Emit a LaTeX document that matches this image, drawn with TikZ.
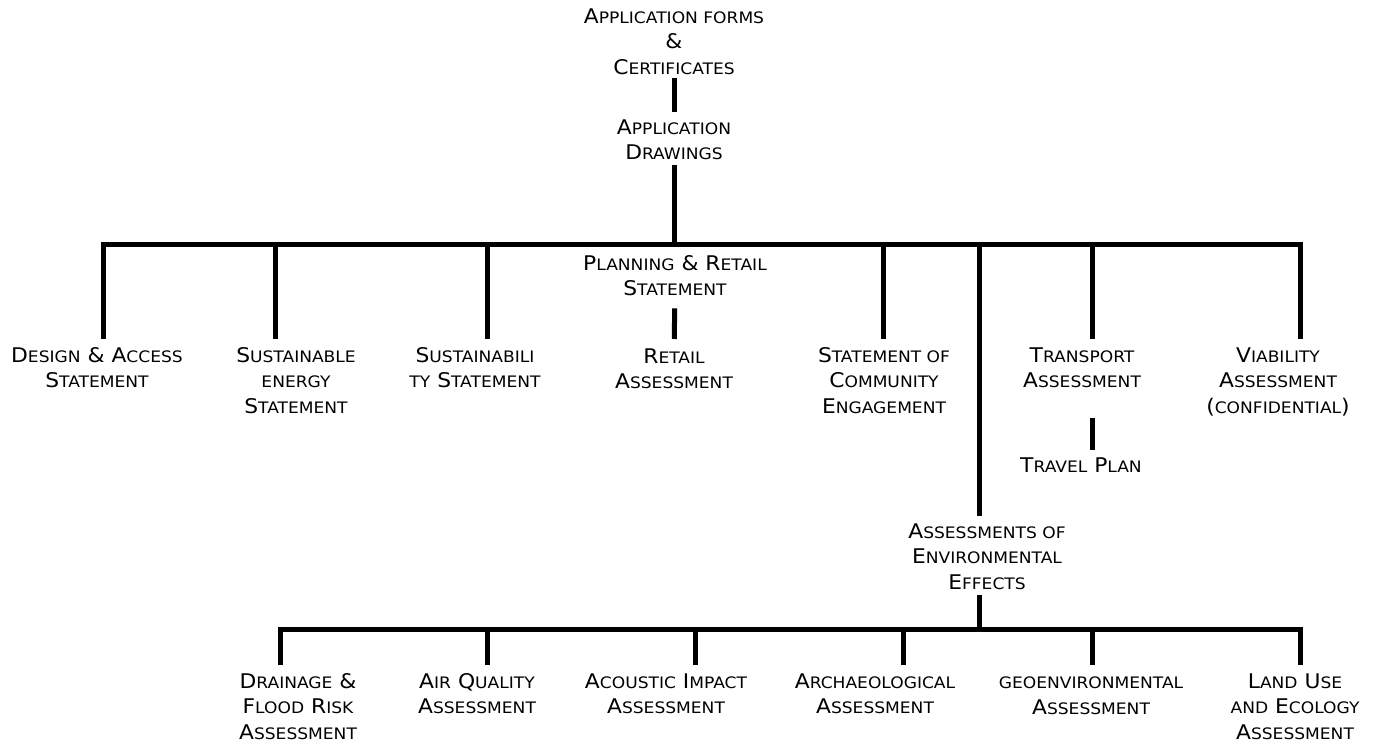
\documentclass[tikz,border=0pt]{standalone}
\usepackage{fontspec}
\setmainfont{DejaVu Sans}[FakeStretch=1.08]
\usetikzlibrary{positioning,calc}
\newcommand\sml[1]{{\fontsize{9}{14.5}\selectfont\MakeUppercase{#1}}}

\begin{document}
\begin{tikzpicture}[x=0.02cm, y=-0.02cm,
  lbl/.style={align=center, inner sep=0pt, anchor=north, font=\fontsize{11.5}{14.5}\selectfont},
  bar/.style={line width=0.1cm},
  bus/.style={line width=0.1cm, line cap=rect},
  drop/.style={line width=0.1cm, shorten >=0.16cm}
]
\useasboundingbox (0,0) rectangle (1373,742);

% top of the tree
\node[lbl] (forms) at (674,8) {A\sml{pplication forms}\\\&\\C\sml{ertificates}};
\node[lbl] (drw) at (674,119) {A\sml{pplication}\\D\sml{rawings}};
\draw[bar, shorten <=0.06cm, shorten >=0.14cm] (forms) -- (drw);

% main bus
\coordinate (top) at (674,245);
\foreach \n/\x in {1/103, 2/275, 3/487, 4/883, 5/979, 6/1092, 7/1300}
  \coordinate (b\n) at (\x,245);
\draw[bar, shorten <=0.1cm] (drw) -- (top);
\draw[bus] (b1) -- (b7);

% first row
\node[lbl] (plan) at (675,255) {P\sml{lanning} \& R\sml{etail}\\S\sml{tatement}};
\node[lbl] (ret) at (674,348) {R\sml{etail}\\A\sml{ssessment}};
\draw[bar, shorten <=0.24cm, shorten >=0.18cm] (plan) -- (ret);

\node[lbl] (des) at (97,347) {D\sml{esign} \& A\sml{ccess}\\S\sml{tatement}};
\node[lbl] (sen) at (296,347) {S\sml{ustainable}\\\sml{energy}\\S\sml{tatement}};
\node[lbl] (sus) at (475,347) {S\sml{ustainabili}\\\sml{ty} S\sml{tatement}};
\node[lbl] (sce) at (884,347) {S\sml{tatement of}\\C\sml{ommunity}\\E\sml{ngagement}};
\node[lbl] (tra) at (1082,347) {T\sml{ransport}\\A\sml{ssessment}};
\node[lbl] (via) at (1278,347) {V\sml{iability}\\A\sml{ssessment}\\(\sml{confidential})};
\node[lbl] (trv) at (1081,457) {T\sml{ravel} P\sml{lan}};

\draw[drop] (b1) -- (b1 |- des.north);
\draw[drop] (b2) -- (b2 |- sen.north);
\draw[drop] (b3) -- (b3 |- sus.north);
\draw[drop] (b4) -- (b4 |- sce.north);
\draw[drop] (b6) -- (b6 |- tra.north);
\draw[drop] (b7) -- (b7 |- via.north);
\draw[bar, shorten <=0.6cm, shorten >=0.14cm] (b6 |- tra.south) -- (b6 |- trv.north);

% environmental effects
\node[lbl] (aee) at (987,523) {A\sml{ssessments of}\\E\sml{nvironmental}\\E\sml{ffects}};
\draw[bar, shorten >=0.14cm] (b5) -- (b5 |- aee.north);

% second bus
\foreach \n/\x in {1/280, 2/487, 3/695, 4/903, 5/979, 6/1092, 7/1300}
  \coordinate (c\n) at (\x,630);
\draw[bar, shorten <=0.1cm] (c5 |- aee.south) -- (c5);
\draw[bus] (c1) -- (c7);

\node[lbl] (dra) at (298,673) {D\sml{rainage} \&\\F\sml{lood} R\sml{isk}\\A\sml{ssessment}};
\node[lbl] (air) at (477,673) {A\sml{ir} Q\sml{uality}\\A\sml{ssessment}};
\node[lbl] (aco) at (666,673) {A\sml{coustic} I\sml{mpact}\\A\sml{ssessment}};
\node[lbl] (arc) at (875,673) {A\sml{rchaeological}\\A\sml{ssessment}};
\node[lbl] (geo) at (1091,676.5) {\sml{geoenvironmental}\\A\sml{ssessment}};
\node[lbl] (lan) at (1295,673) {L\sml{and} U\sml{se}\\\sml{and} E\sml{cology}\\A\sml{ssessment}};

\draw[drop] (c1) -- (c1 |- dra.north);
\draw[drop] (c2) -- (c2 |- air.north);
\draw[drop] (c3) -- (c3 |- aco.north);
\draw[drop] (c4) -- (c4 |- arc.north);
\draw[drop, shorten >=0.23cm] (c6) -- (c6 |- geo.north);
\draw[drop] (c7) -- (c7 |- lan.north);
\end{tikzpicture}
\end{document}
